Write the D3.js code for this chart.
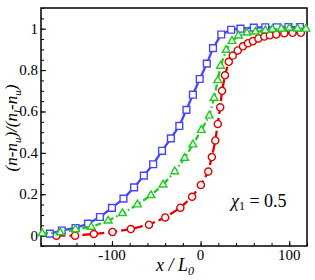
<!DOCTYPE html>
<html><head><meta charset="utf-8">
<script src="https://cdn.jsdelivr.net/npm/d3@7"></script>
<style>body{margin:0;background:#fff}svg{display:block}</style>
</head><body><svg id="c" width="315" height="280"></svg>
<script>
// Data
const blueX = [-170,-156.5,-141,-127,-113.5,-100,-87,-75,-64,-53.5,-43.5,-33.5,-24,-16,-8.7,-1,7,14,23.3,34.5,45,60,73,86,99,112];
const blueY = [0.01,0.025,0.037,0.058,0.09,0.134,0.179,0.233,0.29,0.345,0.41,0.47,0.53,0.608,0.681,0.757,0.831,0.906,0.972,0.995,1.0,1.005,1.007,1.007,1.008,1.008];
const greenX = [-178.7,-158.4,-141,-123.3,-104.2,-88.2,-71.3,-56,-42.4,-29.2,-18,-8.7,0.8,9.8,15.2,19.4,22.5,28.9,35.4,42.7,52.2,61.8,73,81,91,100,109.3,118.8];
const greenY = [0.011,0.015,0.03,0.042,0.072,0.108,0.15,0.195,0.246,0.31,0.375,0.44,0.51,0.58,0.665,0.75,0.82,0.897,0.94,0.966,0.98,0.985,0.992,0.997,1.0,1.003,1.0,0.999];
const redX = [-162.6,-141.6,-120.4,-99.4,-78.7,-58.2,-39.9,-22.8,-9.6,0.3,8.7,12.7,16.6,19.4,22.1,24.2,27.5,31.8,36.3,41.9,47.8,53.4,59,65.2,71.9,78.1,85.4,94.4,103.7,113.1];
const redY = [0.0,0.0,0.008,0.018,0.032,0.053,0.088,0.135,0.188,0.245,0.31,0.38,0.46,0.54,0.62,0.70,0.775,0.84,0.87,0.895,0.915,0.93,0.94,0.953,0.962,0.968,0.972,0.978,0.98,0.98];
const xTicks = [-100, 0, 100];
const yTicks = [0, 0.2, 0.4, 0.6, 0.8, 1];
const yTickLabels = ["0","0.2","0.4","0.6","0.8","1"];

const FONT = '"Liberation Serif"';
const L = 41, T = 8, R = 307, B = 246;
const svg = d3.select("#c");
const x = d3.scaleLinear().domain([-180, 120]).range([L, R]);
const y = d3.scaleLinear().domain([-0.05, 1.1]).range([B, T]);

// axes (ticks inward)
const gx = svg.append("g").attr("transform", `translate(0,${B})`);
gx.call(d3.axisTop(x).tickValues(d3.range(-180, 121, 20)).tickSize(3).tickFormat(""));
const gx2 = svg.append("g").attr("transform", `translate(0,${B})`);
gx2.call(d3.axisTop(x).tickValues(xTicks).tickSize(5).tickFormat(""));
svg.append("g").selectAll("text").data(xTicks).join("text")
  .attr("x", d => x(d)).attr("y", 260).attr("text-anchor", "middle")
  .style("font-family", FONT).attr("font-size", 15).text(d => String(d));

const gy = svg.append("g").attr("transform", `translate(${L},0)`);
gy.call(d3.axisRight(y).tickValues(d3.range(-0.05, 1.101, 0.05)).tickSize(3).tickFormat(""));
const gy2 = svg.append("g").attr("transform", `translate(${L},0)`);
gy2.call(d3.axisRight(y).tickValues(yTicks).tickSize(5).tickFormat(""));
svg.append("g").selectAll("text").data(yTicks).join("text")
  .attr("x", 38).attr("y", d => y(d) + 5).attr("text-anchor", "end")
  .style("font-family", FONT).attr("font-size", 15).text((d, i) => yTickLabels[i]);
svg.selectAll(".domain").remove();
svg.selectAll(".tick line").attr("stroke", "#000").attr("stroke-width", 1);

// frame
svg.append("rect").attr("x", L).attr("y", T).attr("width", R - L).attr("height", B - T)
  .attr("fill", "none").attr("stroke", "#000").attr("stroke-width", 1.5);

const series = [
  {xs: redX, ys: redY, color: "#e00000", dash: "9,4", marker: "circle", size: 40},
  {xs: blueX, ys: blueY, color: "#4545ff", dash: null, marker: "square", size: 46},
  {xs: greenX, ys: greenY, color: "#1ecc1e", dash: "6,3,1.5,3", marker: "triangle", size: 26}
];
const line = d3.line().x(d => x(d[0])).y(d => y(d[1]));
series.forEach(s => {
  const pts = s.xs.map((v, i) => [v, s.ys[i]]);
  svg.append("path").datum(pts).attr("d", line).attr("fill", "none")
    .attr("stroke", s.color).attr("stroke-width", 2.3)
    .attr("stroke-dasharray", s.dash);
  const sym = s.marker === "circle" ? d3.symbolCircle : s.marker === "square" ? d3.symbolSquare : d3.symbolTriangle;
  svg.append("g").selectAll("path").data(pts).join("path")
    .attr("transform", d => `translate(${x(d[0])},${y(d[1])})`)
    .attr("d", d3.symbol().type(sym).size(s.size))
    .attr("fill", "#fff").attr("stroke", s.color).attr("stroke-width", 1.4);
});

// labels
const xl = svg.append("text").attr("x", 175).attr("y", 271).attr("text-anchor", "middle")
  .style("font-family", FONT).attr("font-size", 18).attr("font-style", "italic");
xl.append("tspan").text("x / L");
xl.append("tspan").attr("font-size", 12).attr("dy", 4).text("0");

const yl = svg.append("text").attr("transform", "translate(17,128) rotate(-90)")
  .attr("text-anchor", "middle").style("font-family", FONT).attr("font-size", 17).attr("font-style", "italic");
yl.append("tspan").text("(n-n");
yl.append("tspan").attr("font-size", 11).attr("dy", 4).text("u");
yl.append("tspan").attr("dy", -4).text(")/(n");
yl.append("tspan").attr("font-size", 11).attr("dy", 4).text("l");
yl.append("tspan").attr("dy", -4).text("-n");
yl.append("tspan").attr("font-size", 11).attr("dy", 4).text("u");
yl.append("tspan").attr("dy", -4).text(")");

const ann = svg.append("text").attr("x", 231).attr("y", 207).style("font-family", FONT).attr("font-size", 18);
ann.append("tspan").attr("font-style", "italic").text("χ");
ann.append("tspan").attr("font-size", 12).attr("dy", 3).text("1");
ann.append("tspan").attr("dy", -3).text(" = 0.5");
</script></body></html>
